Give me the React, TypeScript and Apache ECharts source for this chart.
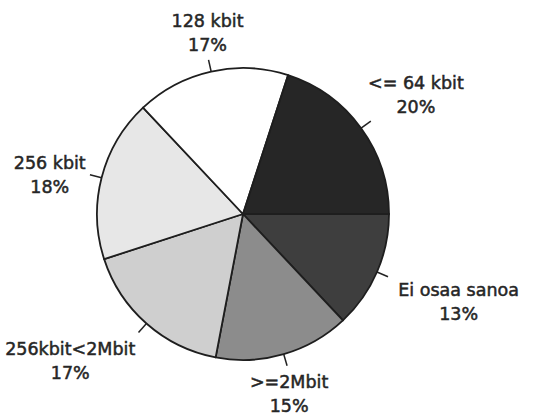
import React, { useEffect, useRef } from "react";
import * as echarts from "echarts";

const categories = ["Ei osaa sanoa", ">=2Mbit", "256kbit<2Mbit", "256 kbit", "128 kbit", "<= 64 kbit"];
const shares = [13, 15, 17, 18, 17, 20];
const sliceColors = ["#3e3e3e", "#8c8c8c", "#cfcfcf", "#e7e7e7", "#ffffff", "#262626"];

// label placement relative to the end of each leader line
const placement = [
  { h: "left", v: "top", gx: 10, gy: 1 },
  { h: "center", v: "top", gx: 2, gy: 4 },
  { h: "right", v: "top", gx: 3, gy: 4 },
  { h: "right", v: "middle", gx: 4, gy: 0 },
  { h: "center", v: "bottom", gx: -1, gy: 3 },
  { h: "left", v: "bottom", gx: -3, gy: 2 },
];

export default function App() {
  const ref = useRef<HTMLDivElement>(null);
  useEffect(() => {
    if (!ref.current) return;
    const chart = echarts.init(ref.current, null, { renderer: "svg" });
    chart.setOption({
      animation: false,
      backgroundColor: "#ffffff",
      series: [
        {
          type: "pie",
          center: [243, 214],
          radius: 146,
          startAngle: 0,
          clockwise: true,
          avoidLabelOverlap: false,
          data: categories.map((name, i) => ({
            name,
            value: shares[i],
            itemStyle: { color: sliceColors[i] },
          })),
          itemStyle: { borderColor: "#1e1e1e", borderWidth: 1.8 },
          label: {
            show: true,
            position: "outside",
            formatter: "{b}\n{d}%",
            fontFamily: "DejaVu Sans",
            fontSize: 17.5,
            lineHeight: 24,
            color: "#262626",
            textBorderColor: "#262626",
            textBorderWidth: 0.5,
          },
          labelLine: {
            show: true,
            length: 12,
            length2: 0,
            smooth: false,
            lineStyle: { color: "#222222", width: 1.5 },
          },
          labelLayout: (params: any) => {
            const pts = params.labelLinePoints;
            const p = placement[params.dataIndex];
            if (!pts || !p) return {};
            const end = pts[pts.length - 1];
            const w = params.labelRect.width;
            let x = end[0];
            if (p.h === "left") x = end[0] + p.gx + w / 2;
            else if (p.h === "right") x = end[0] - p.gx - w / 2;
            else x = end[0] + p.gx;
            let y = end[1];
            if (p.v === "top") y = end[1] + p.gy;
            else if (p.v === "bottom") y = end[1] - p.gy;
            else y = end[1] + p.gy;
            return {
              x,
              y,
              align: "center",
              verticalAlign: p.v,
              labelLinePoints: pts,
            };
          },
        },
      ],
    });
    return () => chart.dispose();
  }, []);
  return (
    <div
      ref={ref}
      style={{ position: "fixed", left: 0, top: 0, width: 536, height: 415 }}
    />
  );
}
